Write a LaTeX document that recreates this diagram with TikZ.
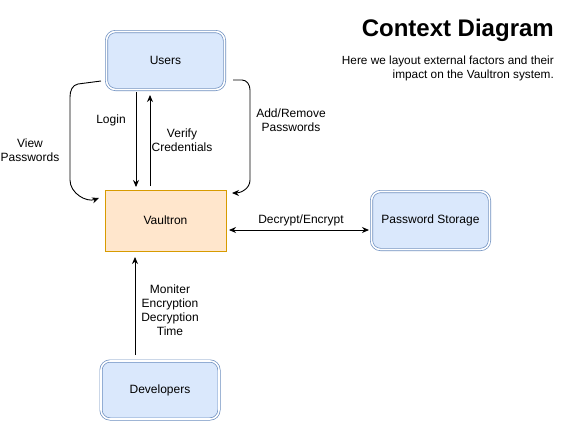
\documentclass[tikz,border=0pt]{standalone}
\usepackage{fontspec}
\setmainfont{Liberation Sans}
\usetikzlibrary{arrows.meta}
\definecolor{bluefill}{HTML}{DAE8FC}
\definecolor{bluedraw}{HTML}{6C8EBF}
\definecolor{orafill}{HTML}{FFE6CC}
\definecolor{oradraw}{HTML}{D79B00}
\tikzset{
  entity/.style={draw=bluedraw, double=white, double distance=1.6pt, line width=0.7pt, fill=bluefill, rounded corners=9pt, minimum width=118pt, minimum height=58pt, inner sep=0pt, font=\fontsize{12}{14}\selectfont},
  sysbox/.style={draw=oradraw, line width=0.9pt, fill=orafill, minimum width=121pt, minimum height=61pt, inner sep=0pt, font=\fontsize{12}{14}\selectfont},
  tip/.style={Stealth[length=7pt,width=6pt]},
  flow/.style={-{Stealth[length=7pt,width=6pt]}, line width=0.9pt},
  biflow/.style={{Stealth[length=7pt,width=6pt]}-{Stealth[length=7pt,width=6pt]}, line width=0.9pt},
  lbl/.style={font=\fontsize{12}{14}\selectfont, align=center, inner sep=0pt}
}
\begin{document}
\begin{tikzpicture}[x=1pt,y=-1pt]
\useasboundingbox (0,0) rectangle (561,421);
\node[entity] (users) at (165.5,60.5) {Users};
\node[sysbox] (vault) at (165.5,220.5) {Vaultron};
\node[entity] (store) at (430.5,220.5) {Password Storage};
\node[entity] (dev) at (160,390) {Developers};

\coordinate (lgA) at (136,92);
\coordinate (lgB) at (136,187);
\coordinate (vcA) at (150,186);
\coordinate (vcB) at (150,95);
\draw[flow] (lgA) -- (lgB);
\draw[flow] (vcA) -- (vcB);

\coordinate (vwA) at (101,81);
\coordinate (vwB) at (99,198);
\draw[flow] (vwA) -- (78,84) to[out=190,in=90] (70,97) -- (70,180) to[out=-90,in=200] (vwB);

\coordinate (arA) at (233,80);
\coordinate (arB) at (232,193);
\draw[flow] (arA) -- (242,80) to[out=0,in=90] (250,90) -- (250,180) to[out=-90,in=0] (arB);

\coordinate (deA) at (229,230);
\coordinate (deB) at (369,230);
\draw[biflow] (deA) -- (deB);
\coordinate (dvA) at (135,355);
\coordinate (dvB) at (135,257);
\draw[flow] (dvA) -- (dvB);

\node[lbl] (l1) at (111,120.5) {Login};
\node[lbl] (l2) at (182,140) {Verify\\Credentials};
\node[lbl] (l3) at (291,120) {Add/Remove\\Passwords};
\node[lbl] (l4) at (30,150) {View\\Passwords};
\node[lbl] (l5) at (301,220.5) {Decrypt/Encrypt};
\node[lbl] (l6) at (170,310) {Moniter\\Encryption\\Decryption\\Time};

\node[anchor=east, inner sep=0pt, font=\bfseries\fontsize{24}{27}\selectfont] (title) at (554,30) {Context Diagram};
\node[anchor=east, align=right, inner sep=0pt, font=\fontsize{11.8}{13.5}\selectfont] (desc) at (554,68.5) {Here we layout external factors and their\\impact on the Vaultron system.};
\end{tikzpicture}
\end{document}
